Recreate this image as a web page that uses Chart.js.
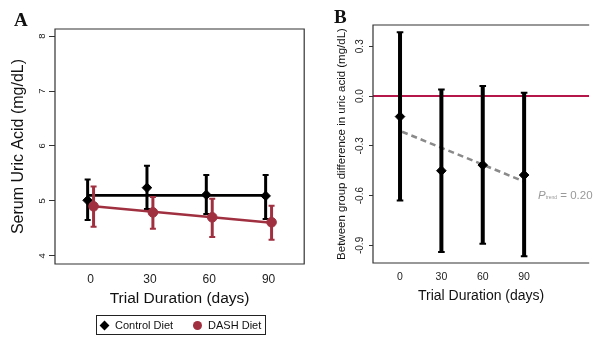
<!DOCTYPE html>
<html lang="en">
  <head>
    <meta charset="UTF-8" />
    <title>Serum uric acid by diet</title>
    <script src="https://cdn.jsdelivr.net/npm/chart.js"></script>
    <style>
      body { margin: 0; background: #fff; }
      #wrap { position: relative; width: 595px; height: 337px; background: #fff; font-family: "Liberation Sans", Arial, sans-serif; }
      canvas { position: absolute; top: 0; }
      .tag { position: absolute; font: bold 19px "Liberation Serif", "Times New Roman", serif; line-height: 1; color: #111; }
      .legend { position: absolute; left: 96px; top: 315px; width: 170px; height: 20px; box-sizing: border-box; border: 1px solid #222; display: flex; align-items: center; font-size: 11px; color: #111; }
      .legend .dia { width: 7px; height: 7px; background: #000; transform: rotate(45deg); margin: 0 7px 0 4px; }
      .legend .dot { width: 9px; height: 9px; border-radius: 50%; background: #a03040; margin: 0 6px 0 20px; }
      .ptrend { position: absolute; left: 538px; top: 190px; font-size: 11.5px; line-height: 1; color: #999; white-space: nowrap; }
      .ptrend .sub { font-size: 5px; }
    </style>
  </head>
  <body>
    <div id="wrap">
      <canvas id="chartA" width="310" height="337" style="left:0"></canvas>
      <canvas id="chartB" width="285" height="337" style="left:310px"></canvas>
      <div class="tag" style="left:14px;top:10px">A</div>
      <div class="tag" style="left:334px;top:7px">B</div>
      <div class="legend">
        <span class="dia"></span>Control Diet<span class="dot"></span>DASH Diet
      </div>
      <div class="ptrend"><i>P</i><span class="sub">trend</span> = 0.20</div>
    </div>

    <script>
      // valeurs
      var days = [0, 30, 60, 90];
      var dodge = 1.5;

      var controlMean = [5.01, 5.24, 5.11, 5.09];
      var controlLow = [4.65, 4.85, 4.76, 4.67];
      var controlHigh = [5.39, 5.64, 5.47, 5.47];
      var controlFit = [5.1, 5.1];

      var dashMean = [4.9, 4.79, 4.7, 4.61];
      var dashLow = [4.53, 4.49, 4.34, 4.29];
      var dashHigh = [5.26, 5.07, 5.04, 4.91];
      var dashFit = [4.9, 4.6];

      var diffMean = [-0.124, -0.45, -0.416, -0.476];
      var diffLow = [-0.63, -0.94, -0.89, -0.966];
      var diffHigh = [0.385, 0.04, 0.06, 0.02];
      var trendDays = [1.5, 90];
      var trendVals = [-0.215, -0.515];

      var uricTicks = [4, 5, 6, 7, 8];
      var diffTicks = [-0.9, -0.6, -0.3, 0, 0.3];

      var red = "#a03040";
      Chart.defaults.font.family = '"Liberation Sans", Arial, sans-serif';
      Chart.defaults.color = "#222";

      function pts(xs, ys, shift) {
        return xs.map(function (x, i) { return { x: x + (shift || 0), y: ys[i] }; });
      }

      // barres d'erreur dessinées juste avant les points du jeu de données
      var errorBars = {
        id: "errorBars",
        beforeDatasetDraw: function (chart, args) {
          var ds = chart.data.datasets[args.index];
          if (!ds.errLow) return;
          var xs = chart.scales.x, ys = chart.scales.y, ctx = chart.ctx;
          ctx.save();
          ctx.strokeStyle = ds.errColor;
          ds.data.forEach(function (p, i) {
            var x = xs.getPixelForValue(p.x);
            var y1 = ys.getPixelForValue(ds.errLow[i]);
            var y2 = ys.getPixelForValue(ds.errHigh[i]);
            ctx.lineWidth = ds.errWidth;
            ctx.beginPath();
            ctx.moveTo(x, y1);
            ctx.lineTo(x, y2);
            ctx.stroke();
            ctx.lineWidth = 2;
            ctx.beginPath();
            ctx.moveTo(x - ds.capHalf, y1);
            ctx.lineTo(x + ds.capHalf, y1);
            ctx.moveTo(x - ds.capHalf, y2);
            ctx.lineTo(x + ds.capHalf, y2);
            ctx.stroke();
          });
          ctx.restore();
        },
      };

      var frame = {
        id: "frame",
        afterDraw: function (chart, args, opts) {
          var a = chart.chartArea, ctx = chart.ctx;
          ctx.save();
          ctx.lineWidth = 1.2;
          ctx.strokeStyle = "#333";
          ctx.beginPath();
          if (opts.full) {
            ctx.rect(a.left, a.top, a.right - a.left, a.bottom - a.top);
          } else {
            ctx.moveTo(a.right, a.top);
            ctx.lineTo(a.left, a.top);
            ctx.lineTo(a.left, a.bottom);
            ctx.lineTo(a.right, a.bottom);
          }
          ctx.stroke();
          ctx.restore();
        },
      };

      function xAxis(min, max, h, tickSize, titleSize, titlePad) {
        return {
          type: "linear",
          min: min,
          max: max,
          afterBuildTicks: function (s) { s.ticks = days.map(function (v) { return { value: v }; }); },
          afterFit: function (s) { s.height = h; },
          grid: { display: false, drawTicks: false },
          border: { display: false },
          ticks: { font: { size: tickSize }, padding: 8, maxRotation: 0 },
          title: { display: true, text: "Trial Duration (days)", color: "#111", font: { size: titleSize }, padding: { top: 0, bottom: titlePad } },
        };
      }

      function yAxis(min, max, w, tickVals, fmt, tickSize, tl, pad, title, titleSize, titlePad) {
        return {
          min: min,
          max: max,
          afterBuildTicks: function (s) { s.ticks = tickVals.map(function (v) { return { value: v }; }); },
          afterFit: function (s) { s.width = w; },
          grid: { display: true, drawOnChartArea: false, drawTicks: true, tickLength: tl, color: "#333" },
          border: { display: false },
          ticks: { font: { size: tickSize }, minRotation: 90, maxRotation: 90, crossAlign: "center", padding: pad, callback: fmt },
          title: { display: true, text: title, color: "#111", font: { size: titleSize }, padding: { top: titlePad, bottom: 0 } },
        };
      }

      var common = {
        responsive: false,
        animation: false,
        events: [],
      };

      new Chart(document.getElementById("chartA"), {
        type: "scatter",
        data: {
          datasets: [
            { label: "Control fit", data: pts([days[0], days[3]], controlFit, -dodge), showLine: true, borderColor: "#000", borderWidth: 2.7, pointRadius: 0, order: 4 },
            {
              label: "Control Diet", data: pts(days, controlMean, -dodge), pointStyle: "rectRot", pointRadius: 4.8, borderWidth: 1, backgroundColor: "#000", borderColor: "#000", order: 3,
              errLow: controlLow, errHigh: controlHigh, errColor: "#000", errWidth: 3, capHalf: 3,
            },
            { label: "DASH fit", data: pts([days[0], days[3]], dashFit, dodge), showLine: true, borderColor: red, borderWidth: 2.5, pointRadius: 0, order: 2 },
            {
              label: "DASH Diet", data: pts(days, dashMean, dodge), pointStyle: "circle", pointRadius: 4.8, borderWidth: 1, backgroundColor: red, borderColor: red, order: 1,
              errLow: dashLow, errHigh: dashHigh, errColor: red, errWidth: 3, capHalf: 3,
            },
          ],
        },
        options: Object.assign({}, common, {
          layout: { padding: { top: 29, right: 1, bottom: 27, left: 0 } },
          plugins: { legend: { display: false }, tooltip: { enabled: false }, frame: { full: true } },
          scales: {
            x: xAxis(-18, 108, 46, 12, 15.5, 2),
            y: yAxis(3.85, 8.13, 55, uricTicks, function (v) { return String(v); }, 9.5, 6, 4, "Serum Uric Acid (mg/dL)", 16, 9),
          },
        }),
        plugins: [errorBars, frame],
      });

      new Chart(document.getElementById("chartB"), {
        type: "scatter",
        data: {
          datasets: [
            { label: "zero", data: [{ x: -19.6, y: 0 }, { x: 137.2, y: 0 }], showLine: true, borderColor: "#b5174b", borderWidth: 2, pointRadius: 0, order: 5 },
            { label: "trend", data: pts(trendDays, trendVals), showLine: true, borderColor: "#8a8a8a", borderWidth: 2.5, borderDash: [6, 4], pointRadius: 0, order: 4 },
            {
              label: "Difference", data: pts(days, diffMean), pointStyle: "rectRot", pointRadius: 4.8, borderWidth: 1, backgroundColor: "#000", borderColor: "#000", order: 1,
              errLow: diffLow, errHigh: diffHigh, errColor: "#000", errWidth: 4, capHalf: 3.3,
            },
          ],
        },
        options: Object.assign({}, common, {
          layout: { padding: { top: 25, right: 0, bottom: 27, left: 0 } },
          plugins: { legend: { display: false }, tooltip: { enabled: false }, frame: { full: false } },
          scales: {
            x: xAxis(-19.6, 137.2, 47, 10.5, 14, 5),
            y: yAxis(-1.006, 0.428, 63, diffTicks, function (v) { return v.toFixed(1); }, 10, 4, 0, "Between group difference in uric acid (mg/dL)", 11.5, 25),
          },
        }),
        plugins: [errorBars, frame],
      });
    </script>
  </body>
</html>
